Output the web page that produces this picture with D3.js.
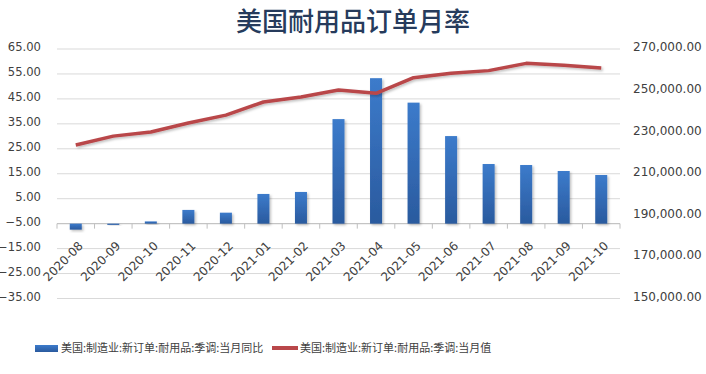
<!DOCTYPE html>
<html>
  <head>
    <meta charset="utf-8">
    <script src="https://cdn.jsdelivr.net/npm/d3@7"></script>
    <style>
        body { margin: 0; background: #fff; }
        text { font-family: "Noto Sans CJK SC", "DejaVu Sans", sans-serif; }
    </style>
  </head>

  <body>
    <div id="my_dataviz"></div>
  </body>

  <script>

    // months on the category axis
    let months = ["2020-08", "2020-09", "2020-10", "2020-11", "2020-12", "2021-01", "2021-02",
                  "2021-03", "2021-04", "2021-05", "2021-06", "2021-07", "2021-08", "2021-09", "2021-10"];

    // 当月同比 (left axis, %)
    let yoy = [-7.4, -5.5, -4.1, 0.5, -0.6, 6.9, 7.7, 36.9, 53.3, 43.5, 30.1, 18.9, 18.5, 16.1, 14.5];

    // 当月值 (right axis)
    let level = [223800, 228100, 230100, 234400, 238200, 244500, 246900, 250300,
                 248700, 256200, 258300, 259600, 263100, 262200, 260900];

    let leftTicks = [65, 55, 45, 35, 25, 15, 5, -5, -15, -25, -35];
    let rightTicks = [270000, 250000, 230000, 210000, 190000, 170000, 150000];

    let barName = "美国:制造业:新订单:耐用品:季调:当月同比";
    let lineName = "美国:制造业:新订单:耐用品:季调:当月值";

    let width = 706, height = 374;

    let svg = d3.select("#my_dataviz")
                .append("svg")
                    .attr("width", width)
                    .attr("height", height);

    let defs = svg.append("defs");

    let grad = defs.append("linearGradient")
                   .attr("id", "barGrad")
                   .attr("x1", 0).attr("y1", 0).attr("x2", 0).attr("y2", 1);
    grad.append("stop").attr("offset", "0%").attr("stop-color", "#3c7bcb");
    grad.append("stop").attr("offset", "100%").attr("stop-color", "#2a5a9e");

    let shadow = defs.append("filter")
                     .attr("id", "shadow")
                     .attr("x", "-20%").attr("y", "-20%")
                     .attr("width", "160%").attr("height", "160%");
    shadow.append("feDropShadow")
          .attr("dx", 1.5).attr("dy", 1.5)
          .attr("stdDeviation", 1.2)
          .attr("flood-color", "#000")
          .attr("flood-opacity", 0.25);

    // scales
    let x = d3.scaleBand()
              .domain(months)
              .range([57, 620])
              .paddingInner(0.68)
              .paddingOuter(0.34);

    let y = d3.scaleLinear()
              .domain([-35, 65])
              .range([298.5, 49]);

    let y2 = d3.scaleLinear()
               .domain([150000, 270000])
               .range([298.5, 49]);

    // title
    svg.append("text")
       .attr("x", 353)
       .attr("y", 31)
       .attr("text-anchor", "middle")
       .style("font-size", "26px")
       .style("font-weight", "500")
       .attr("fill", "#263b5c")
       .text("美国耐用品订单月率");

    // gridlines
    svg.append("g")
       .selectAll("line")
       .data(leftTicks)
       .enter()
       .append("line")
         .attr("x1", 57)
         .attr("x2", 620)
         .attr("y1", d => y(d))
         .attr("y2", d => y(d))
         .attr("stroke", "#d9d9d9")
         .attr("stroke-width", 1);

    // left axis labels
    let yAxis = svg.append("g")
                   .attr("transform", "translate(45,-2)")
                   .call(d3.axisLeft(y).tickValues(leftTicks).tickFormat(d3.format(".2f")).tickSize(0).tickPadding(4));
    yAxis.select(".domain").remove();
    yAxis.selectAll("text")
         .style("font-size", "11.6px")
         .style("font-family", "'DejaVu Sans', sans-serif")
         .attr("fill", "#404040");

    // right axis labels
    let y2Axis = svg.append("g")
                    .attr("transform", "translate(629,-2)")
                    .call(d3.axisRight(y2).tickValues(rightTicks).tickFormat(d3.format(",.2f")).tickSize(0).tickPadding(4));
    y2Axis.select(".domain").remove();
    y2Axis.selectAll("text")
          .style("font-size", "12px")
          .style("font-family", "'DejaVu Sans', sans-serif")
          .attr("fill", "#404040");

    // category axis sits at -5
    let axisY = y(-5);

    svg.append("line")
       .attr("x1", 57).attr("x2", 620)
       .attr("y1", axisY).attr("y2", axisY)
       .attr("stroke", "#bfbfbf");

    let step = x.step();
    svg.append("g")
       .selectAll("line")
       .data(d3.range(months.length + 1))
       .enter()
       .append("line")
         .attr("x1", i => 57 + i * step)
         .attr("x2", i => 57 + i * step)
         .attr("y1", axisY)
         .attr("y2", axisY + 5)
         .attr("stroke", "#bfbfbf");

    svg.append("g")
       .selectAll("text")
       .data(months)
       .enter()
       .append("text")
         .attr("transform", d => "translate(" + (x(d) + x.bandwidth() / 2 + 5) + "," + (axisY + 20) + ") rotate(-45)")
         .attr("text-anchor", "end")
         .attr("dy", "0.35em")
         .style("font-size", "12px")
         .style("font-family", "'DejaVu Sans', sans-serif")
         .attr("fill", "#404040")
         .text(d => d);

    // bars from the -5 baseline
    svg.append("g")
       .selectAll("rect")
       .data(months)
       .enter()
       .append("rect")
         .attr("x", d => x(d))
         .attr("width", x.bandwidth())
         .attr("y", (d, i) => Math.min(y(yoy[i]), axisY))
         .attr("height", (d, i) => Math.max(1, Math.abs(y(yoy[i]) - axisY)))
         .attr("fill", "url(#barGrad)")
         .attr("filter", "url(#shadow)");

    // level line
    svg.append("path")
       .datum(months)
       .attr("fill", "none")
       .attr("stroke", "#b9474a")
       .attr("stroke-width", 3.5)
       .attr("stroke-linejoin", "round")
       .attr("filter", "url(#shadow)")
       .attr("d", d3.line()
         .x(d => x(d) + x.bandwidth() / 2)
         .y((d, i) => y2(level[i]))
       );

    // legend
    let legend = svg.append("g");

    legend.append("rect")
          .attr("x", 35).attr("y", 345)
          .attr("width", 23).attr("height", 7)
          .attr("fill", "url(#barGrad)");

    legend.append("text")
          .attr("x", 61).attr("y", 348)
          .attr("dy", "0.35em")
          .style("font-size", "11px")
          .attr("fill", "#404040")
          .text(barName);

    legend.append("line")
          .attr("x1", 272).attr("x2", 298)
          .attr("y1", 348).attr("y2", 348)
          .attr("stroke", "#b9474a")
          .attr("stroke-width", 4);

    legend.append("text")
          .attr("x", 300).attr("y", 348)
          .attr("dy", "0.35em")
          .style("font-size", "11px")
          .attr("fill", "#404040")
          .text(lineName);

  </script>

</html>
